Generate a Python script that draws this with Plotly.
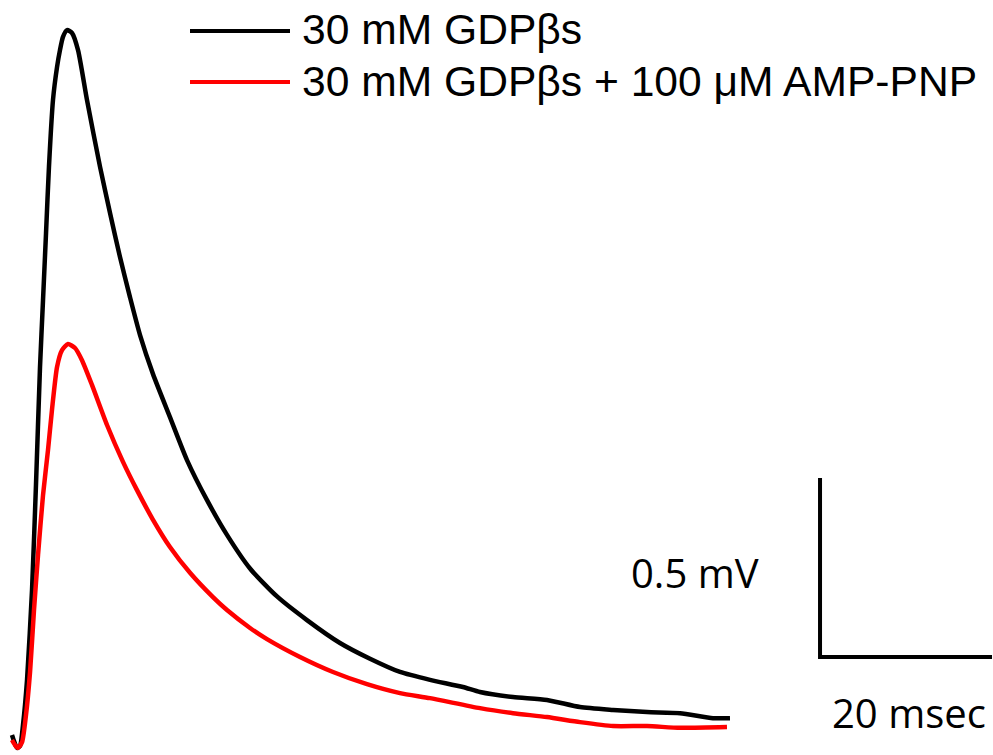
import plotly.graph_objects as go

# Time (ms) and voltage (mV)
black_t = [0.23, 0.47, 0.81, 1.16, 1.51, 1.98, 2.56, 3.02, 3.49, 3.84, 4.19, 4.53, 5.00, 5.47,
           5.81, 6.16, 6.63, 7.21, 7.91, 8.95, 10.47, 11.63, 12.79, 13.95, 15.12, 16.63, 18.60,
           20.58, 22.91, 25.23, 27.91, 31.05, 34.53, 38.37, 41.86, 45.35, 48.84, 52.67, 54.65,
           58.49, 62.44, 66.28, 70.12, 74.07, 77.91, 81.74, 83.72]
black_v = [0.0, -0.017, -0.036, -0.031, 0.028, 0.154, 0.405, 0.698, 1.028, 1.215, 1.402, 1.587,
           1.774, 1.866, 1.913, 1.950, 1.969, 1.961, 1.913, 1.774, 1.587, 1.458, 1.335, 1.223,
           1.117, 1.008, 0.888, 0.768, 0.656, 0.559, 0.465, 0.387, 0.321, 0.257, 0.213, 0.176,
           0.154, 0.134, 0.120, 0.106, 0.098, 0.078, 0.070, 0.064, 0.061, 0.047, 0.047]

red_t = [0.23, 0.58, 0.93, 1.40, 1.86, 2.33, 2.79, 3.26, 3.84, 4.42, 4.88, 5.47, 6.05, 6.74,
         7.56, 8.37, 9.53, 11.28, 13.14, 14.77, 16.63, 18.60, 20.93, 23.60, 25.23, 27.91, 29.88,
         33.72, 37.56, 41.51, 45.35, 48.84, 54.65, 58.49, 62.44, 66.28, 70.12, 74.07, 77.91, 83.37]
red_v = [-0.014, -0.028, -0.036, -0.020, 0.056, 0.176, 0.349, 0.503, 0.670, 0.796, 0.908, 1.028,
         1.075, 1.092, 1.081, 1.047, 0.978, 0.866, 0.763, 0.684, 0.601, 0.525, 0.453, 0.385,
         0.349, 0.299, 0.268, 0.218, 0.176, 0.142, 0.117, 0.103, 0.075, 0.061, 0.050, 0.036,
         0.025, 0.025, 0.020, 0.022]

series_names = ["30 mM GDP\u03b2s", "30 mM GDP\u03b2s + 100 \u03bcM AMP-PNP"]
series_colors = ["#000000", "#ff0000"]

scale_ms = 20
scale_mv = 0.5
scale_labels = ["0.5 mV", "20 msec"]

# scale bar anchor (corner) in data units
bar_t0 = 94.19
bar_v0 = 0.218

fig = go.Figure()
fig.add_trace(go.Scatter(x=black_t, y=black_v, mode="lines",
                         line=dict(color=series_colors[0], width=4.5, shape="spline", smoothing=0.6),
                         showlegend=False, hoverinfo="skip"))
fig.add_trace(go.Scatter(x=red_t, y=red_v, mode="lines",
                         line=dict(color=series_colors[1], width=4.5, shape="spline", smoothing=0.6),
                         showlegend=False, hoverinfo="skip"))

# scale bar
fig.add_trace(go.Scatter(x=[bar_t0, bar_t0, bar_t0 + scale_ms],
                         y=[bar_v0 + scale_mv, bar_v0, bar_v0],
                         mode="lines", line=dict(color="black", width=4),
                         showlegend=False, hoverinfo="skip"))

W, H = 993, 755

def px(x):
    return x / W

def py(y):
    return 1 - y / H

shapes = [
    dict(type="line", xref="paper", yref="paper", x0=px(190), x1=px(290), y0=py(31), y1=py(31),
         line=dict(color=series_colors[0], width=4)),
    dict(type="line", xref="paper", yref="paper", x0=px(190), x1=px(290), y0=py(82), y1=py(82),
         line=dict(color=series_colors[1], width=4)),
]

annotations = [
    dict(text=series_names[0], xref="paper", yref="paper", x=px(300), y=py(29),
         xanchor="left", yanchor="middle", showarrow=False,
         font=dict(family="Liberation Sans, Arial", size=42.6, color="black")),
    dict(text=series_names[1], xref="paper", yref="paper", x=px(300), y=py(81),
         xanchor="left", yanchor="middle", showarrow=False,
         font=dict(family="Liberation Sans, Arial", size=42.6, color="black")),
    dict(text=scale_labels[0], xref="x", yref="y", x=bar_t0 - 14.5, y=bar_v0 + 0.237,
         xanchor="center", yanchor="middle", showarrow=False,
         font=dict(family="Open Sans", size=40, color="black")),
    dict(text=scale_labels[1], xref="x", yref="y", x=bar_t0 + 10.4, y=bar_v0 - 0.156,
         xanchor="center", yanchor="middle", showarrow=False,
         font=dict(family="Open Sans", size=40, color="black")),
]

fig.update_layout(
    width=W, height=H,
    margin=dict(l=0, r=0, t=0, b=0),
    paper_bgcolor="white", plot_bgcolor="white",
    xaxis=dict(range=[-10 / 8.6, 983 / 8.6], visible=False, fixedrange=True),
    yaxis=dict(range=[-20 / 358, 735 / 358], visible=False, fixedrange=True),
    shapes=shapes,
    annotations=annotations,
    showlegend=False,
)

fig.write_html("out.html", config={"displayModeBar": False},
               post_script="document.body.style.margin='0px';document.body.style.overflow='hidden';")
